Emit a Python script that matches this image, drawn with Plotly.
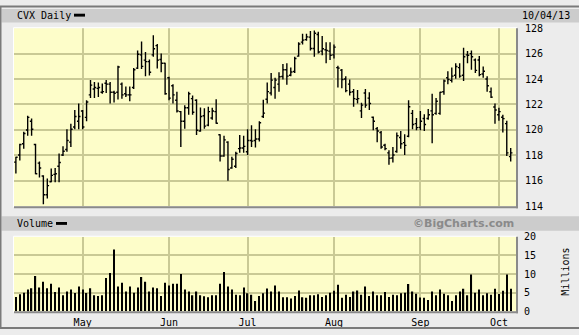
import plotly.graph_objects as go

W, H = 579, 335

# ---- data ----
opens = [117.47, 118.03, 118.91, 120.00, 120.68, 118.86, 117.39, 116.38, 114.91, 115.93,
         116.51, 117.14, 118.03, 118.46, 119.04, 120.23, 120.68, 121.49, 120.99, 122.76,
         123.22, 123.27, 122.96, 123.67, 123.60, 122.96, 122.96, 123.60, 122.84, 122.76,
         123.34, 124.86, 125.90, 125.49, 125.37, 125.90, 126.63, 125.54, 125.24, 124.10,
         123.47, 122.33, 121.44, 120.68, 121.75, 122.46, 122.33, 119.92, 121.12, 120.38,
         120.94, 121.44, 119.62, 117.95, 119.04, 117.01, 117.14, 118.53, 118.58, 118.28,
         119.17, 119.17, 119.29, 121.06, 122.41, 122.91, 123.34, 123.60, 124.20, 124.73,
         124.30, 124.60, 125.80, 126.90, 127.10, 127.30, 126.40, 127.50, 126.20, 126.30,
         126.20, 125.90, 124.90, 124.70, 124.00, 123.60, 123.00, 122.40, 121.50, 122.90,
         122.50, 121.00, 120.10, 119.80, 118.80, 118.20, 117.80, 118.30, 119.40, 119.00,
         119.50, 121.30, 120.50, 120.20, 120.90, 120.90, 121.50, 121.30, 121.30, 123.00,
         124.10, 123.90, 124.30, 124.90, 124.30, 125.90, 126.00, 125.50, 125.50, 124.40,
         124.00, 123.00, 121.80, 121.20, 121.00, 120.50, 117.90]
highs = [117.90, 118.91, 119.85, 121.12, 120.89, 118.91, 117.52, 116.43, 116.18, 116.96,
         117.01, 118.15, 118.71, 120.05, 120.48, 121.57, 122.08, 121.57, 122.33, 123.92,
         123.77, 123.72, 123.65, 123.92, 123.77, 123.09, 125.04, 123.72, 123.42, 123.42,
         124.86, 126.25, 126.96, 126.13, 125.54, 127.44, 126.76, 126.00, 125.29, 124.18,
         123.60, 123.01, 121.49, 121.95, 123.01, 122.71, 122.41, 121.77, 121.70, 121.82,
         121.75, 122.41, 119.67, 119.54, 119.12, 117.90, 118.28, 119.60, 119.54, 120.05,
         120.36, 120.05, 120.68, 122.38, 123.72, 124.48, 124.10, 124.53, 125.19, 125.24,
         124.91, 125.75, 126.89, 127.57, 127.57, 127.77, 127.82, 127.72, 127.39, 126.89,
         126.89, 126.71, 125.04, 124.79, 124.23, 123.97, 123.22, 123.14, 122.13, 123.22,
         122.96, 121.06, 120.23, 119.92, 118.91, 118.41, 118.66, 119.80, 119.92, 119.67,
         122.33, 121.57, 120.94, 121.49, 121.24, 121.65, 122.84, 122.51, 123.01, 123.97,
         124.61, 124.91, 125.24, 125.24, 126.46, 126.20, 126.25, 125.62, 125.82, 124.99,
         124.23, 123.34, 122.08, 121.75, 121.19, 120.73, 118.58]
lows = [116.58, 117.59, 118.53, 119.54, 119.54, 116.51, 116.26, 114.15, 114.61, 115.88,
        115.88, 115.88, 117.95, 118.28, 118.66, 120.05, 120.05, 120.05, 120.68, 122.51,
        122.51, 122.58, 122.84, 122.91, 122.08, 122.15, 122.40, 122.46, 122.58, 122.26,
        123.22, 124.79, 124.79, 124.23, 124.28, 125.75, 124.84, 124.53, 122.76, 122.33,
        122.08, 121.37, 118.66, 120.10, 121.19, 121.19, 119.60, 119.85, 120.10, 120.30,
        120.81, 120.48, 117.52, 117.90, 116.00, 116.94, 117.01, 118.20, 118.20, 118.03,
        118.66, 118.61, 119.09, 120.94, 122.08, 122.71, 122.46, 123.01, 123.97, 123.55,
        124.23, 124.48, 125.75, 126.71, 127.01, 126.25, 125.75, 126.00, 125.87, 125.24,
        125.49, 125.62, 123.34, 123.27, 122.96, 122.71, 121.82, 122.08, 120.94, 121.75,
        121.57, 119.98, 119.04, 118.53, 118.41, 117.27, 117.44, 118.20, 118.53, 118.03,
        119.42, 120.05, 119.98, 119.98, 119.92, 120.81, 118.96, 121.19, 121.19, 122.76,
        123.60, 123.72, 124.03, 124.10, 123.85, 125.24, 124.73, 124.48, 124.23, 124.10,
        123.01, 122.51, 120.48, 120.73, 119.80, 117.95, 117.52]
closes = [117.85, 118.86, 119.72, 120.99, 120.05, 116.56, 117.01, 114.91, 115.62, 116.43,
          116.56, 117.44, 118.33, 119.17, 120.05, 121.06, 121.06, 120.23, 122.20, 123.52,
          123.34, 123.34, 123.01, 123.60, 122.96, 122.89, 124.95, 122.76, 122.76, 122.76,
          124.73, 125.95, 125.00, 125.37, 124.53, 126.38, 125.49, 125.24, 122.84, 122.50,
          122.76, 121.49, 120.68, 121.75, 122.84, 121.39, 119.98, 121.06, 120.30, 121.44,
          121.49, 120.53, 117.95, 119.22, 116.89, 117.70, 118.15, 118.58, 118.71, 119.17,
          119.12, 119.29, 120.56, 121.32, 123.01, 123.92, 123.92, 124.18, 124.73, 124.23,
          124.56, 125.62, 126.76, 127.06, 127.32, 126.40, 127.60, 126.13, 126.38, 126.25,
          125.87, 126.51, 124.86, 123.97, 123.09, 122.96, 122.46, 122.46, 121.95, 121.95,
          122.08, 120.68, 119.92, 118.66, 118.53, 117.77, 118.03, 119.54, 118.91, 118.79,
          121.82, 120.43, 120.18, 120.68, 120.43, 121.19, 121.19, 122.26, 122.96, 123.85,
          123.97, 124.23, 124.99, 124.23, 125.75, 125.87, 125.75, 124.68, 124.35, 124.61,
          123.47, 122.58, 121.57, 121.44, 120.89, 118.20, 118.20]
volumes = [3.88, 4.57, 5.00, 5.86, 6.21, 9.48, 6.38, 7.93, 6.21, 7.41,
           5.17, 6.38, 4.31, 5.34, 5.86, 4.91, 6.64, 5.86, 4.91, 6.21,
           4.31, 4.14, 4.31, 8.97, 10.26, 16.55, 6.64, 7.67, 5.34, 6.64,
           5.00, 6.38, 9.22, 7.93, 5.34, 6.38, 6.21, 4.14, 7.67, 6.90,
           7.41, 7.41, 10.00, 5.86, 5.34, 4.31, 5.34, 4.31, 4.05, 3.79,
           4.31, 4.31, 7.41, 10.52, 6.64, 5.86, 4.48, 4.31, 6.38, 4.83,
           4.48, 2.76, 4.14, 4.83, 6.12, 5.34, 6.90, 5.34, 3.79, 3.79,
           3.45, 4.14, 5.60, 3.79, 3.62, 4.31, 4.31, 4.57, 3.88, 4.31,
           5.00, 5.52, 7.16, 3.62, 4.48, 3.88, 5.34, 5.60, 4.48, 6.64,
           4.14, 5.34, 4.31, 4.31, 5.17, 3.88, 4.48, 4.31, 4.83, 5.00,
           7.33, 5.34, 4.74, 3.71, 3.62, 3.02, 5.34, 4.31, 5.86, 4.74,
           4.31, 2.76, 4.31, 5.34, 6.03, 4.31, 9.91, 5.00, 5.86, 4.31,
           4.83, 4.48, 6.03, 4.66, 5.52, 9.91, 6.03]
month_index = [17, 39, 59, 81, 103, 123]
month_labels = ["May", "Jun", "Jul", "Aug", "Sep", "Oct"]
price_ticks = [114, 116, 118, 120, 122, 124, 126, 128]
volume_ticks = [0, 5, 10, 15, 20]
title_text = "CVX Daily"
date_text = "10/04/13"

# ---- layout helpers (pixel -> paper) ----
def px(x):
    return x / W

def py(y):
    return 1 - y / H

PL, PR = 14, 516
P_TOP, P_BOT = 23, 207.7
V_TOP, V_BOT = 239.3, 316.7
GRID = "#c9c995"
MONO = "DejaVu Sans Mono"

idx = list(range(len(opens)))
xr = [-0.48, 127.35]

fig = go.Figure()
fig.add_trace(go.Ohlc(
    x=idx, open=opens, high=highs, low=lows, close=closes,
    xaxis="x", yaxis="y", tickwidth=0.45, hoverinfo="skip",
    increasing=dict(line=dict(color="black", width=1.4)),
    decreasing=dict(line=dict(color="black", width=1.4)),
))
fig.add_trace(go.Bar(
    x=idx, y=volumes, xaxis="x2", yaxis="y2", width=0.32,
    marker=dict(color="black", line=dict(width=0)), hoverinfo="skip",
))

axis_common = dict(showline=False, zeroline=False, gridcolor=GRID, gridwidth=1.5,
                   fixedrange=True, tickfont=dict(family=MONO, size=10, color="black"))

fig.update_layout(
    width=W, height=H, autosize=False,
    margin=dict(l=0, r=0, t=0, b=0, pad=0),
    paper_bgcolor="#ececec", plot_bgcolor="#fdfdc9",
    showlegend=False,
    xaxis=dict(domain=[px(PL), px(PR)], range=xr, anchor="y",
               tickvals=month_index, showticklabels=False, ticks="",
               rangeslider=dict(visible=False), **axis_common),
    yaxis=dict(domain=[py(P_BOT), py(P_TOP)], range=[114, 128], anchor="x",
               side="right", tickvals=price_ticks, ticks="", ticklabelstandoff=8,
               **axis_common),
    xaxis2=dict(domain=[px(PL), px(PR)], range=xr, anchor="y2",
                tickvals=month_index, ticktext=month_labels, ticks="",
                ticklabelstandoff=4, **axis_common),
    yaxis2=dict(domain=[py(V_BOT), py(V_TOP)], range=[0, 20], anchor="x2",
                side="right", tickvals=volume_ticks, ticks="", ticklabelstandoff=7,
                **axis_common),
)

shapes = []
# header bands
shapes.append(dict(type="rect", xref="paper", yref="paper", x0=px(1.5), x1=px(579), y0=py(17), y1=py(3),
                   fillcolor="#cccccc", line=dict(width=0), layer="below"))
shapes.append(dict(type="rect", xref="paper", yref="paper", x0=px(1.5), x1=px(579), y0=py(233), y1=py(218),
                   fillcolor="#cccccc", line=dict(width=0), layer="below"))
# legend swatches
shapes.append(dict(type="rect", xref="paper", yref="paper", x0=px(74), x1=px(85), y0=py(11), y1=py(8),
                   fillcolor="black", line=dict(width=0)))
shapes.append(dict(type="rect", xref="paper", yref="paper", x0=px(56), x1=px(67), y0=py(227), y1=py(224),
                   fillcolor="black", line=dict(width=0)))
# plot frames: light top/left, dark bottom/right
for top, bot in ((P_TOP, P_BOT), (V_TOP, V_BOT)):
    shapes.append(dict(type="line", xref="paper", yref="paper", x0=px(PL - 0.5), x1=px(PR + 1), y0=py(top - 0.5), y1=py(top - 0.5),
                       line=dict(color="white", width=1)))
    shapes.append(dict(type="line", xref="paper", yref="paper", x0=px(PL - 0.5), x1=px(PL - 0.5), y0=py(top - 0.5), y1=py(bot + 1),
                       line=dict(color="white", width=1)))
    shapes.append(dict(type="line", xref="paper", yref="paper", x0=px(PL), x1=px(PR + 2), y0=py(bot + 1), y1=py(bot + 1),
                       line=dict(color="#8a8a8a", width=2)))
    shapes.append(dict(type="line", xref="paper", yref="paper", x0=px(PR + 1), x1=px(PR + 1), y0=py(top), y1=py(bot + 2),
                       line=dict(color="#8a8a8a", width=2)))
# outer border
shapes.append(dict(type="rect", xref="paper", yref="paper", x0=px(0.5), x1=px(580), y0=py(334), y1=py(0.5),
                   fillcolor="rgba(0,0,0,0)", line=dict(color="#7a7a7a", width=2)))
fig.update_layout(shapes=shapes)

ann = [
    dict(text=title_text, x=px(15), y=py(10), xanchor="left", yanchor="middle",
         font=dict(family=MONO, size=10, color="black")),
    dict(text=date_text, x=px(572), y=py(10), xanchor="right", yanchor="middle",
         font=dict(family=MONO, size=10, color="black")),
    dict(text="Volume", x=px(15), y=py(225.5), xanchor="left", yanchor="middle",
         font=dict(family=MONO, size=10, color="black")),
    dict(text="<b>©BigCharts.com</b>", x=px(516), y=py(225.5), xanchor="right", yanchor="middle",
         font=dict(family="DejaVu Sans", size=11, color="#8a8a8a")),
    dict(text="Millions", x=px(566), y=py(275.5), xanchor="center", yanchor="middle", textangle=-90,
         font=dict(family=MONO, size=10, color="black")),
]
for a in ann:
    a.update(xref="paper", yref="paper", showarrow=False)
fig.update_layout(annotations=ann)

fig.write_html("out.html")
